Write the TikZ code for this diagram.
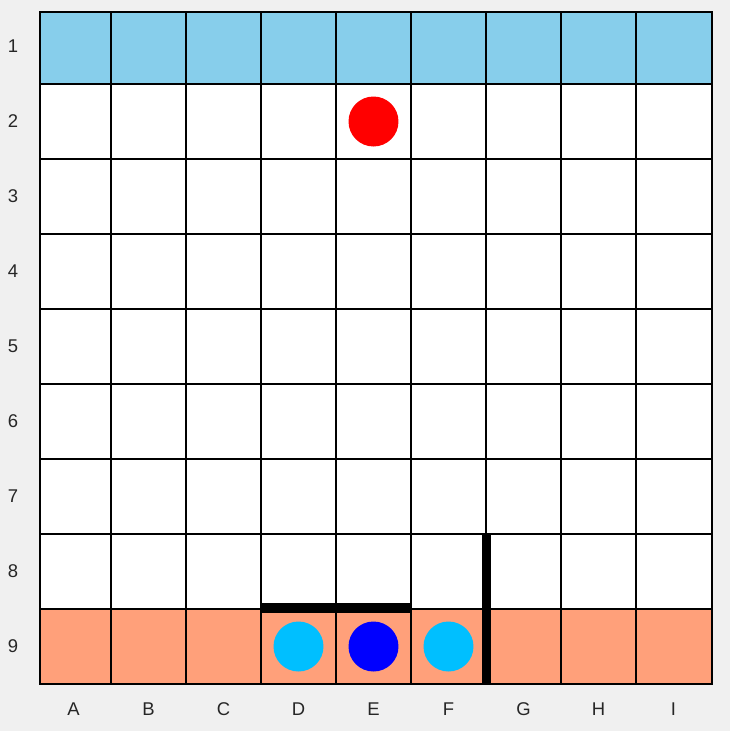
\documentclass[tikz,border=0pt]{standalone}
\usepackage{fontspec}
\setmainfont{Liberation Sans}
\definecolor{boardbg}{HTML}{F0F0F0}
\definecolor{goalblue}{HTML}{87CEEB}
\definecolor{homesalmon}{HTML}{FFA07A}
\definecolor{pawncyan}{HTML}{00BFFF}

\begin{document}
\begin{tikzpicture}[
    x=0.02cm, y=-0.02cm,
    gridline/.style={draw=black, line width=1.1pt},
    frame/.style={draw=black, line width=1.5pt},
    wall/.style={draw=black, line width=5.6pt},
    piece/.style={circle, inner sep=0pt, minimum size=1cm},
    boardlabel/.style={font=\fontsize{10.5}{12}\selectfont, text=black!85}
]

% background and fixed size
\fill[boardbg] (0,0) rectangle (730,731);
\useasboundingbox (0,0) rectangle (730,731);

% rows: goal row, empty rows, home row
\fill[goalblue] (40,12) rectangle (712,84);
\fill[white] (40,84) rectangle (712,609);
\fill[homesalmon] (40,609) rectangle (712,684);

% grid
\foreach \i in {1,...,8} {
    \draw[gridline] (36+75*\i,12) -- (36+75*\i,684);
    \draw[gridline] (40,9+75*\i) -- (712,9+75*\i);
}
\draw[frame] (40,12) rectangle (712,684);

% labels
\foreach \c [count=\i] in {A,B,C,D,E,F,G,H,I}
    \node[boardlabel] (col\c) at (36+75*\i-37.5,709) {\c};
\foreach \r in {1,...,9}
    \node[boardlabel] (row\r) at (13,9+75*\r-37.5) {\r};

% walls
\draw[wall] (261,608) -- (411,608);
\draw[wall] (486.5,534) -- (486.5,684);

% pieces
\node[piece, fill=red] (opponent) at (373.5,121.5) {};
\node[piece, fill=pawncyan] (leftpawn) at (298.5,646.5) {};
\node[piece, fill=blue] (player) at (373.5,646.5) {};
\node[piece, fill=pawncyan] (rightpawn) at (448.5,646.5) {};

\end{tikzpicture}
\end{document}
